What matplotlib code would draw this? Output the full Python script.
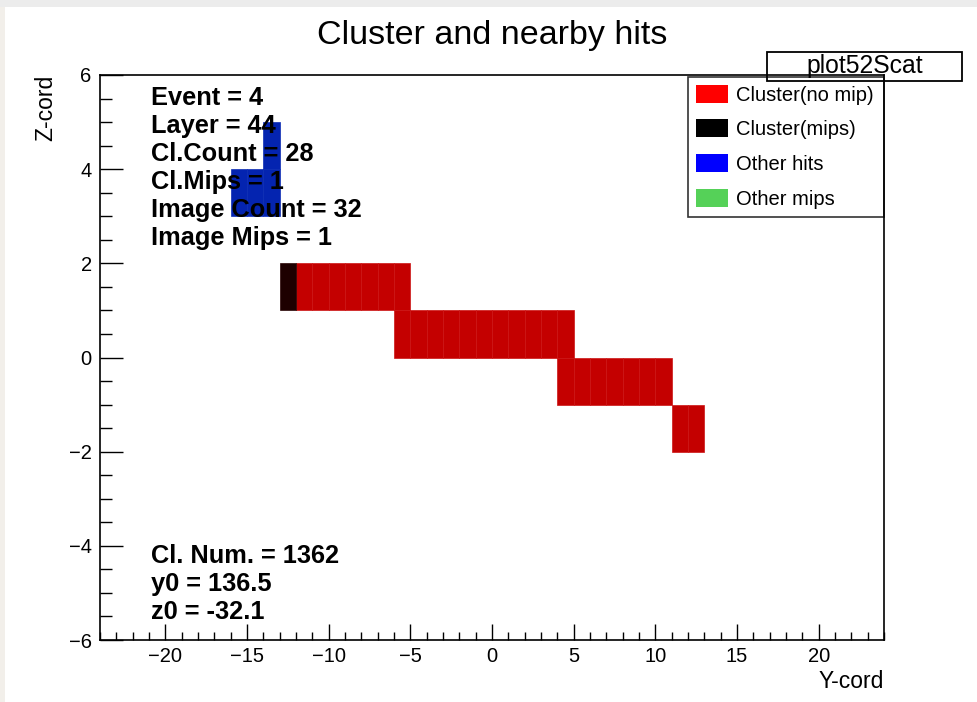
import matplotlib
matplotlib.use("Agg")
import matplotlib.pyplot as plt
from matplotlib.patches import Rectangle, Patch
from matplotlib.ticker import MultipleLocator

plt.rcParams["font.family"] = ["Liberation Sans", "DejaVu Sans"]

# ---- hit cells (cell centres, 1 x 1 pads) ----
nomip_y = [-11.5, -10.5, -9.5, -8.5, -7.5, -6.5, -5.5,
           -5.5, -4.5, -3.5, -2.5, -1.5, -0.5, 0.5, 1.5, 2.5, 3.5, 4.5,
           4.5, 5.5, 6.5, 7.5, 8.5, 9.5, 10.5,
           11.5, 12.5]
nomip_z = [1.5, 1.5, 1.5, 1.5, 1.5, 1.5, 1.5,
           0.5, 0.5, 0.5, 0.5, 0.5, 0.5, 0.5, 0.5, 0.5, 0.5, 0.5,
           -0.5, -0.5, -0.5, -0.5, -0.5, -0.5, -0.5,
           -1.5, -1.5]
mip_y = [-12.5]
mip_z = [1.5]
other_y = [-13.5, -15.5, -14.5, -13.5]
other_z = [4.5, 3.5, 3.5, 3.5]
othermip_y = []
othermip_z = []

info_top = ["Event = 4", "Layer = 44", "Cl.Count = 28", "Cl.Mips = 1",
            "Image Count = 32", "Image Mips = 1"]
info_bottom = ["Cl. Num. = 1362", "y0 = 136.5", "z0 = -32.1"]

legend_labels = ["Cluster(no mip)", "Cluster(mips)", "Other hits", "Other mips"]
legend_colors = ["#FF0000", "#000000", "#0000FF", "#55D158"]

W, H = 978, 702
fig = plt.figure(figsize=(W / 100, H / 100), dpi=100)


def fx(px):
    return px / W


def fy(py):
    return 1 - py / H


# window edge strips
fig.patches.append(Rectangle((0, 0), fx(5), 1, transform=fig.transFigure,
                             facecolor="#F2EFEA", edgecolor="none", zorder=0))
fig.patches.append(Rectangle((0, fy(7)), 1, 1 - fy(7), transform=fig.transFigure,
                             facecolor="#ECECEC", edgecolor="none", zorder=0))

ax = fig.add_axes([fx(100), fy(640), fx(884) - fx(100), fy(75) - fy(640)])
ax.set_xlim(-24, 24)
ax.set_ylim(-6, 6)


def draw_cells(ys, zs, face, edge):
    if not ys:
        return
    ax.bar(ys, [1.0] * len(ys), width=1.0, bottom=[z - 0.5 for z in zs],
           color=face, edgecolor=edge, linewidth=0.5, zorder=2)


draw_cells(nomip_y, nomip_z, "#C40000", "#CC1414")
draw_cells(mip_y, mip_z, "#1E0000", "#2A0606")
draw_cells(other_y, other_z, "#0424B0", "#0C2CB4")
draw_cells(othermip_y, othermip_z, "#55D158", "#70DA72")

# axes styling
for s in ax.spines.values():
    s.set_linewidth(1.2)
    s.set_color("black")
ax.xaxis.set_major_locator(MultipleLocator(5))
ax.xaxis.set_minor_locator(MultipleLocator(1))
ax.yaxis.set_major_locator(MultipleLocator(2))
ax.yaxis.set_minor_locator(MultipleLocator(0.5))
ax.tick_params(axis="x", which="major", direction="in", length=11.5, width=1.0,
               labelsize=14.5, pad=5, top=False)
ax.tick_params(axis="x", which="minor", direction="in", length=5.8, width=1.0, top=False)
ax.tick_params(axis="y", which="major", direction="in", length=16.6, width=1.0,
               labelsize=14.5, pad=6, right=False)
ax.tick_params(axis="y", which="minor", direction="in", length=8.6, width=1.0, right=False)

ax.set_xlabel("Y-cord", loc="right", fontsize=16.5)
ax.xaxis.set_label_coords(1.0, -0.053)
ax.set_ylabel("Z-cord", loc="top", fontsize=16.5)
ax.yaxis.set_label_coords(-0.0545, 1.0)

# title
fig.text(fx(492), fy(44), "Cluster and nearby hits", ha="center", va="baseline",
         fontsize=24.5)

# event information
for i, line in enumerate(info_top):
    fig.text(fx(151), fy(105 + 28 * i), line, ha="left", va="baseline",
             fontsize=18.3, fontweight="bold", zorder=5)
for i, line in enumerate(info_bottom):
    fig.text(fx(151), fy(563 + 28 * i), line, ha="left", va="baseline",
             fontsize=18.3, fontweight="bold", zorder=5)

# name box
fig.patches.append(Rectangle((fx(767), fy(80.5)), fx(962) - fx(767), fy(52) - fy(80.5),
                             transform=fig.transFigure, facecolor="none",
                             edgecolor="black", linewidth=1.3, zorder=3))
fig.text(fx(864.5), fy(73), "plot52Scat", ha="center", va="baseline", fontsize=17.8)

# legend
handles = [Patch(facecolor=c, edgecolor="none", label=l)
           for c, l in zip(legend_colors, legend_labels)]
leg = ax.legend(handles=handles, loc="upper left",
                bbox_to_anchor=(fx(688), fy(217), fx(884) - fx(688), fy(77) - fy(217)),
                bbox_transform=fig.transFigure, mode="expand", fontsize=14.5,
                frameon=True, fancybox=False, borderpad=0.38, labelspacing=0.74,
                handlelength=1.6, handleheight=1.0, handletextpad=0.4,
                borderaxespad=0)
frame = leg.get_frame()
frame.set_edgecolor("black")
frame.set_facecolor("none")
frame.set_linewidth(1.2)

fig.savefig("out.png", dpi=100)
